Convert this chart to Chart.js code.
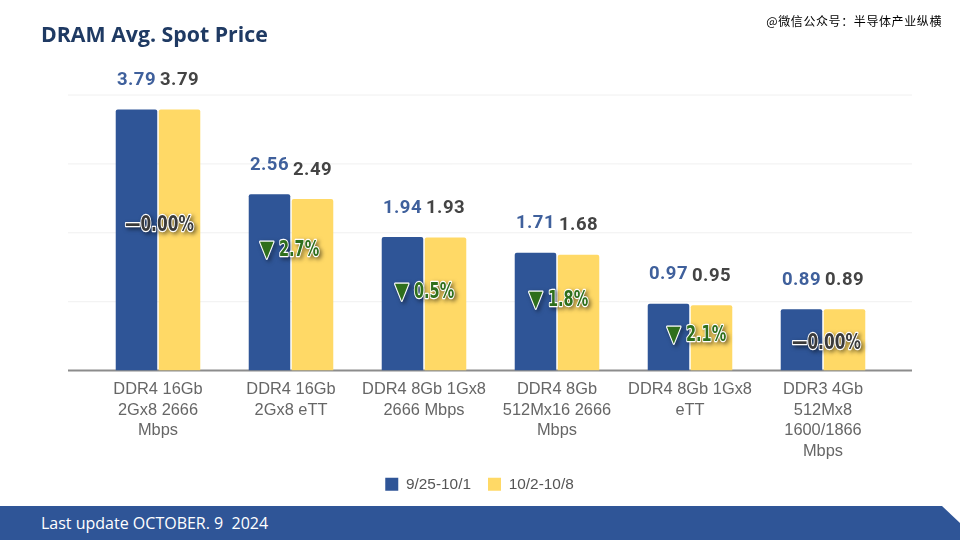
<!DOCTYPE html>
<html>
<head>
<meta charset="utf-8">
<script src="https://cdn.jsdelivr.net/npm/chart.js@4"></script>
<style>
body { margin: 0; background: #fff; }
#wrap { position: relative; width: 960px; height: 540px; overflow: hidden; }
#myChart { position: absolute; left: 0; top: 0; }
#title { position: absolute; left: 41px; top: 19px; font: bold 21.3px "Open Sans"; color: #1f3a63; }
#mark { position: absolute; right: 18px; top: 12px; font: 12px "Noto Sans CJK SC"; color: #000; letter-spacing: .6px; }
#foot { position: absolute; left: 0; top: 506px; width: 960px; height: 34px; background: #2f5597; clip-path: polygon(0 0, 942px 0, 960px 17px, 960px 34px, 0 34px); }
#foot span { position: absolute; left: 41px; top: 6px; font: 16px "Open Sans"; color: #fff; white-space: pre; }
</style>
</head>
<body>
<div id="wrap">
    <canvas id="myChart" width="960" height="502"></canvas>
    <div id="title">DRAM Avg. Spot Price</div>
    <div id="mark">@微信公众号：半导体产业纵横</div>
    <div id="foot"><span>Last update OCTOBER. 9  2024</span></div>
</div>
<script>
const categories = [
    ['DDR4 16Gb', '2Gx8 2666', 'Mbps'],
    ['DDR4 16Gb', '2Gx8 eTT'],
    ['DDR4 8Gb 1Gx8', '2666 Mbps'],
    ['DDR4 8Gb', '512Mx16 2666', 'Mbps'],
    ['DDR4 8Gb 1Gx8', 'eTT'],
    ['DDR3 4Gb', '512Mx8', '1600/1866', 'Mbps']
];
const week1 = [3.79, 2.56, 1.94, 1.71, 0.97, 0.89];
const week2 = [3.79, 2.49, 1.93, 1.68, 0.95, 0.89];
const changes = ['—0.00%', '▼2.7%', '▼0.5%', '▼1.8%', '▼2.1%', '—0.00%'];
const yTicks = [0, 1, 2, 3, 4];

// grid runs wider than the category band, so it is drawn by hand
const wideGrid = {
    id: 'wideGrid',
    // legend is centred on the page, not on the chart area
    afterLayout(chart) {
        chart.legend.left -= 11;
        chart.legend.right -= 11;
    },
    beforeDatasetsDraw(chart) {
        const c = chart.ctx, y = chart.scales.y;
        c.save();
        yTicks.forEach(function(t) {
            c.strokeStyle = t === 0 ? '#8c8c8c' : '#f0f0f0';
            c.lineWidth = t === 0 ? 2 : 1;
            c.beginPath();
            c.moveTo(68, y.getPixelForValue(t));
            c.lineTo(912, y.getPixelForValue(t));
            c.stroke();
        });
        c.restore();
    }
};

const valueLabels = {
    id: 'valueLabels',
    afterDatasetsDraw(chart) {
        const c = chart.ctx;
        c.save();
        c.font = 'bold 18.5px Roboto';
        c.letterSpacing = '0.4px';
        c.textAlign = 'center';
        c.textBaseline = 'middle';
        chart.data.datasets.forEach(function(ds, i) {
            c.fillStyle = i === 0 ? '#3f609c' : '#444444';
            chart.getDatasetMeta(i).data.forEach(function(bar, j) {
                c.fillText(ds.data[j].toFixed(2), bar.x, bar.y - 29);
            });
        });
        c.restore();
    }
};

function outlined(c, txt, x, fill, sx) {
    c.save();
    c.translate(x, 0);
    c.scale(sx, 1);
    c.lineJoin = 'round';
    c.shadowColor = 'rgba(0,0,0,.55)';
    c.shadowBlur = 4;
    c.shadowOffsetX = 2;
    c.shadowOffsetY = 2;
    c.strokeStyle = '#ffffff';
    c.lineWidth = 2.5;
    c.strokeText(txt, 0, 0);
    c.shadowColor = 'transparent';
    c.fillStyle = fill;
    c.fillText(txt, 0, 0);
    c.restore();
}

// the change badges sit over the bars
const changeLabels = {
    id: 'changeLabels',
    afterDraw(chart, args, opts) {
        const c = chart.ctx, x = chart.scales.x;
        changes.forEach(function(txt, i) {
            const cx = x.getPixelForValue(i) + opts.dx[i];
            c.save();
            c.translate(cx, opts.y[i]);
            c.font = 'bold 22px "DejaVu Sans"';
            c.textBaseline = 'middle';
            c.textAlign = 'left';
            if (txt[0] === '▼') {
                outlined(c, '▼', -30, '#2f6f1c', 0.8);
                outlined(c, txt.slice(1), -11, '#2f6f1c', 0.66);
            } else {
                outlined(c, txt, -34, '#3a3a3a', 0.7);
            }
            c.restore();
        });
    }
};

new Chart(document.getElementById('myChart'), {
    type: 'bar',
    data: {
        labels: categories,
        datasets: [
            { label: '9/25-10/1', data: week1, backgroundColor: '#2f5597', borderRadius: 2, barPercentage: 0.965, categoryPercentage: 0.647 },
            { label: '10/2-10/8', data: week2, backgroundColor: '#ffd966', borderRadius: 2, barPercentage: 0.965, categoryPercentage: 0.647 }
        ]
    },
    options: {
        responsive: false,
        animation: false,
        layout: { padding: { left: 91.5, right: 70.5, top: 95 } },
        scales: {
            x: {
                grid: { display: false },
                border: { display: false },
                ticks: { color: '#666666', font: { family: 'Liberation Sans', size: 16.4, lineHeight: 1.25 }, maxRotation: 0, autoSkip: false, padding: 1 },
                afterFit(s) { s.height -= 3; }
            },
            y: {
                display: false,
                min: 0,
                max: 4,
                afterFit(s) { s.width = 0; }
            }
        },
        plugins: {
            tooltip: { enabled: false },
            legend: {
                position: 'bottom',
                labels: { color: '#555555', boxWidth: 13, boxHeight: 13, padding: 17, font: { family: 'Liberation Sans', size: 15.4 } }
            },
            changeLabels: {
                y: [225, 250, 292, 300, 335, 343],
                dx: [1, -1, 1, 2, 7, 3]
            }
        }
    },
    plugins: [wideGrid, valueLabels, changeLabels]
});
</script>
</body>
</html>
